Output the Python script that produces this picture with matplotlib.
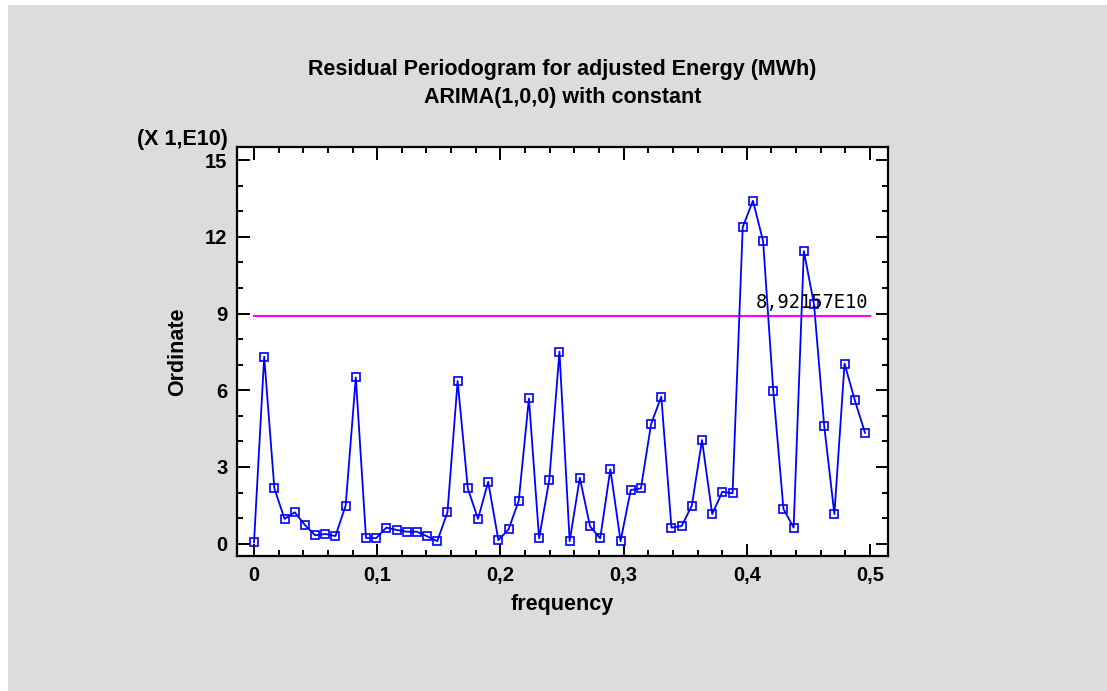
import numpy as np
import matplotlib
matplotlib.use("Agg")
import matplotlib.pyplot as plt
from matplotlib.patches import Rectangle
from matplotlib.ticker import MultipleLocator, FuncFormatter

# ---- data ----
n_obs = 121
harmonics = list(range(0, 61))
ordinate = [0.05, 7.31, 2.16, 0.97, 1.23, 0.73, 0.33, 0.38, 0.30, 1.49,
            6.50, 0.22, 0.22, 0.63, 0.54, 0.47, 0.47, 0.29, 0.10, 1.23,
            6.36, 2.16, 0.97, 2.42, 0.14, 0.56, 1.68, 5.68, 0.21, 2.50,
            7.51, 0.10, 2.58, 0.68, 0.21, 2.91, 0.10, 2.10, 2.16, 4.68,
            5.75, 0.63, 0.69, 1.49, 4.05, 1.16, 2.03, 1.97, 12.38, 13.41,
            11.83, 5.97, 1.36, 0.63, 11.44, 9.36, 4.61, 1.16, 7.04, 5.62,
            4.34]
frequency = [k / n_obs for k in harmonics]
ref_level = 8.92157
ref_label = "8,92157E10"
title_1 = "Residual Periodogram for adjusted Energy (MWh)"
title_2 = "ARIMA(1,0,0) with constant"
scale_label = "(X 1,E10)"
x_label = "frequency"
y_label = "Ordinate"

plt.rcParams['font.family'] = ['Liberation Sans', 'DejaVu Sans']

W, H = 1107, 691
fig = plt.figure(figsize=(W / 100, H / 100), dpi=100, facecolor='white')
fig.patches.append(Rectangle((8 / W, 0), 1 - 8 / W, 1 - 5 / H,
                             transform=fig.transFigure, facecolor='#dcdcdc',
                             edgecolor='none', zorder=-10))

ax = fig.add_axes([237 / W, 1 - 556 / H, (888 - 237) / W, (556 - 147) / H])
ax.set_facecolor('white')

ax.plot(frequency, ordinate, color='#0000ff', lw=1.3, marker='s',
        markersize=6, markerfacecolor='none', markeredgecolor='#0000ff',
        markeredgewidth=1.2, zorder=3)
ax.plot([0, 0.5], [ref_level, ref_level], color='#ff00ff', lw=1.5, zorder=2)
ax.text(0.4985, ref_level + 0.12, ref_label, ha='right', va='bottom',
        family='DejaVu Sans Mono', fontsize=13.5, color='black', zorder=4)

ax.set_xlim(-0.0138, 0.5146)
ax.set_ylim(-0.48, 15.51)
ax.xaxis.set_major_locator(MultipleLocator(0.1))
ax.xaxis.set_minor_locator(MultipleLocator(0.02))
ax.yaxis.set_major_locator(MultipleLocator(3))
ax.yaxis.set_minor_locator(MultipleLocator(1))


def comma_fmt(v, pos):
    s = f"{v:.1f}".replace('.', ',')
    if s in ('0,0', '-0,0'):
        return '0'
    return s


ax.xaxis.set_major_formatter(FuncFormatter(comma_fmt))
ax.yaxis.set_major_formatter(FuncFormatter(lambda v, p: f"{int(round(v))}"))

ax.tick_params(which='both', direction='in', top=True, right=True,
               width=1.4, color='black')
ax.tick_params(which='major', length=9, labelsize=14.5, pad=7)
ax.tick_params(which='minor', length=4.5)
for lab in ax.get_xticklabels() + ax.get_yticklabels():
    lab.set_fontweight('bold')
for sp in ax.spines.values():
    sp.set_linewidth(1.6)
    sp.set_color('black')

ax.set_xlabel(x_label, fontsize=15.5, fontweight='bold')
ax.set_ylabel(y_label, fontsize=15.5, fontweight='bold')
ax.xaxis.set_label_coords(0.5, (556 - 594) / 409)
ax.yaxis.set_label_coords((188 - 237) / 651, 0.5)

fig.text(562.5 / W, 1 - 70 / H, title_1, ha='center', va='center',
         fontsize=15.5, fontweight='bold')
fig.text(562.5 / W, 1 - 98 / H, title_2, ha='center', va='center',
         fontsize=15.5, fontweight='bold')
fig.text(228 / W, 1 - 139 / H, scale_label, ha='right', va='center',
         fontsize=15.5, fontweight='bold')

fig.savefig('out.png', dpi=100, facecolor=fig.get_facecolor())
